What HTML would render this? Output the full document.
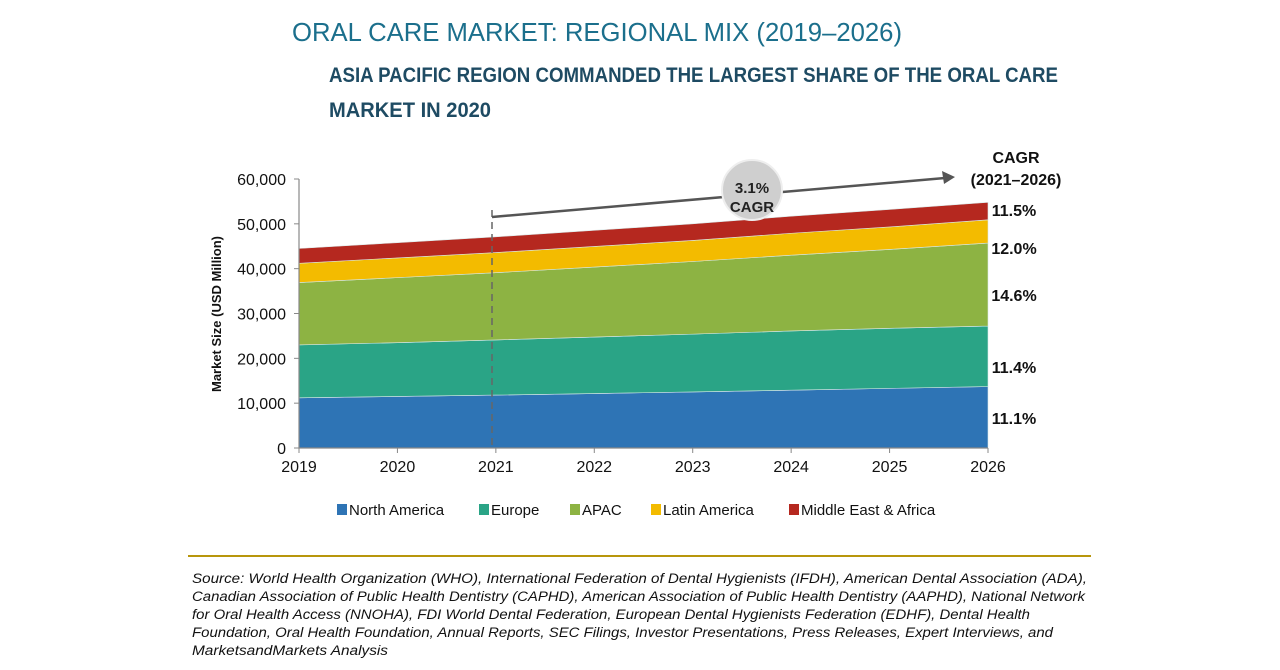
<!DOCTYPE html>
<html><head><meta charset="utf-8"><style>
html,body{margin:0;padding:0;background:#fff;width:1280px;height:670px;overflow:hidden}
svg{display:block;font-family:"Liberation Sans Narrow","Liberation Sans",sans-serif}
</style></head><body>
<svg id="c" width="1280" height="670" viewBox="0 0 1280 670">
<text x="292" y="41" font-size="26" fill="#1b6f8c" textLength="610" lengthAdjust="spacingAndGlyphs">ORAL CARE MARKET: REGIONAL MIX (2019–2026)</text>
<text x="329" y="82" font-size="21" font-weight="bold" fill="#1e4b63" textLength="729" lengthAdjust="spacingAndGlyphs">ASIA PACIFIC REGION COMMANDED THE LARGEST SHARE OF THE ORAL CARE</text>
<text x="329" y="117" font-size="21" font-weight="bold" fill="#1e4b63" textLength="162" lengthAdjust="spacingAndGlyphs">MARKET IN 2020</text>
<g id="plot"></g>
<g id="yt"></g><g id="xt"></g>
<text transform="translate(221,314) rotate(-90)" text-anchor="middle" font-size="13" font-weight="bold" fill="#111">Market Size (USD Million)</text>
<text x="1016" y="163" text-anchor="middle" font-size="16" font-weight="bold" fill="#111">CAGR</text>
<text x="1016" y="185" text-anchor="middle" font-size="16" font-weight="bold" fill="#111">(2021–2026)</text>
<g id="cagr"></g>
<line x1="492" y1="210" x2="492" y2="448" stroke="#666" stroke-width="1.5" stroke-dasharray="7,5"/>
<line x1="492" y1="217" x2="945" y2="178" stroke="#555" stroke-width="2.5"/>
<polygon points="955,177 942,171 944,184" fill="#555"/>
<circle cx="752" cy="190" r="30" fill="#cfcfcf" stroke="#eee" stroke-width="2"/>
<text x="752" y="193" text-anchor="middle" font-size="15" font-weight="bold" fill="#222">3.1%</text>
<text x="752" y="212" text-anchor="middle" font-size="15" font-weight="bold" fill="#222">CAGR</text>
<g id="legend"></g>
<line x1="188" y1="556" x2="1091" y2="556" stroke="#b8960c" stroke-width="2"/>
<g font-size="13.5" font-style="italic" fill="#111">
<text x="192" y="583" textLength="895" lengthAdjust="spacingAndGlyphs">Source: World Health Organization (WHO), International Federation of Dental Hygienists (IFDH), American Dental Association (ADA),</text>
<text x="192" y="601" textLength="893" lengthAdjust="spacingAndGlyphs">Canadian Association of Public Health Dentistry (CAPHD), American Association of Public Health Dentistry (AAPHD), National Network</text>
<text x="192" y="619" textLength="838" lengthAdjust="spacingAndGlyphs">for Oral Health Access (NNOHA), FDI World Dental Federation, European Dental Hygienists Federation (EDHF), Dental Health</text>
<text x="192" y="637" textLength="861" lengthAdjust="spacingAndGlyphs">Foundation, Oral Health Foundation, Annual Reports, SEC Filings, Investor Presentations, Press Releases, Expert Interviews, and</text>
<text x="192" y="655" textLength="196" lengthAdjust="spacingAndGlyphs">MarketsandMarkets Analysis</text>
</g>
</svg>
<script>
const years=[2019,2020,2021,2022,2023,2024,2025,2026];
const seriesNames=["North America","Europe","APAC","Latin America","Middle East & Africa"];
const northAmerica=[11200,11500,11800,12150,12500,12900,13300,13700];
const europe=[11800,12000,12300,12600,12900,13200,13400,13500];
const apac=[13900,14500,15000,15600,16200,16900,17600,18500];
const latinAmerica=[4300,4400,4500,4600,4700,4900,5000,5200];
const mea=[3300,3400,3500,3600,3700,3800,3900,3900];
const cagrLabels=["11.1%","11.4%","14.6%","12.0%","11.5%"];
const yTicks=[0,10000,20000,30000,40000,50000,60000];
const colors=["#2e74b5","#2aa486","#8db343","#f3bb00","#b5281f"];
const labelY=[424,373,301,254,216];
const NS="http://www.w3.org/2000/svg";
const X0=299,X1=988,Y0=448,Y1=179;
const xs=i=>X0+(X1-X0)*i/(years.length-1);
const ys=v=>Y0-(Y0-Y1)*v/60000;
function mk(t,a,p){const e=document.createElementNS(NS,t);for(const k in a)e.setAttribute(k,a[k]);p.appendChild(e);return e;}
const plot=document.getElementById('plot');
const data=[northAmerica,europe,apac,latinAmerica,mea];
let base=years.map(()=>0);
data.forEach((s,k)=>{
  const top=base.map((b,i)=>b+s[i]);
  let d="M"+years.map((_,i)=>xs(i)+","+ys(top[i])).join("L");
  for(let i=years.length-1;i>=0;i--)d+="L"+xs(i)+","+ys(base[i]);
  const p=mk('path',{d:d+"Z",fill:colors[k],stroke:"#d8e8e8","stroke-width":0.6},plot);
  
  
  const t=mk('text',{x:1014,y:labelY[k],"text-anchor":"middle","font-size":16,"font-weight":"bold",fill:"#111"},document.getElementById('cagr'));
  t.textContent=cagrLabels[k];
  
  
  base=top;
});
const ax=mk('path',{d:`M${X0},${Y1}V${Y0}H${X1}`,stroke:"#888",fill:"none","stroke-width":1.2},plot);


const yt=document.getElementById('yt');
yTicks.forEach(v=>{
  mk('line',{x1:X0-5,x2:X0,y1:ys(v),y2:ys(v),stroke:"#888"},yt);
  const t=mk('text',{x:286,y:ys(v)+6,"text-anchor":"end","font-size":16,fill:"#111"},yt);
  t.textContent=v.toLocaleString('en-US');
  
  
});
const xt=document.getElementById('xt');
years.forEach((y,i)=>{
  mk('line',{x1:xs(i),x2:xs(i),y1:Y0,y2:Y0+5,stroke:"#888"},xt);
  const t=mk('text',{x:xs(i),y:472,"text-anchor":"middle","font-size":16,fill:"#111"},xt);
  t.textContent=y;
  
  
});
const lg=document.getElementById('legend');
const lx=[337,479,570,651,789];
seriesNames.forEach((n,k)=>{
  const g=mk('g',{},lg);
  
  
  mk('rect',{x:lx[k],y:504,width:10,height:11,fill:colors[k]},g);
  const t=mk('text',{x:lx[k]+12,y:515,"font-size":15,fill:"#111"},g);
  t.textContent=n;
});
</script>
</body></html>
